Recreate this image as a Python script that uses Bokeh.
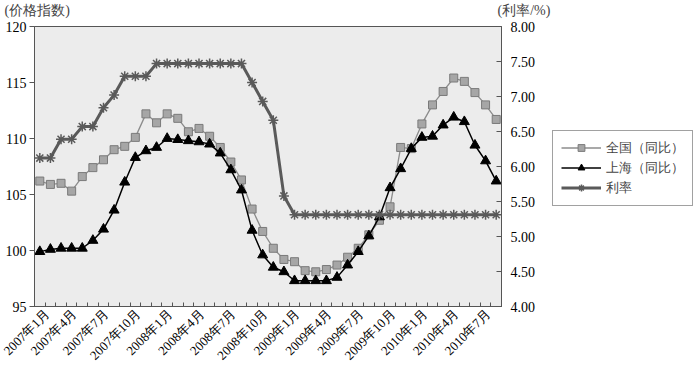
import math
from bokeh.plotting import figure
from bokeh.layouts import column, row
from bokeh.models import Range1d, LinearAxis, FixedTicker, Legend, LegendItem, Label, PrintfTickFormatter
from bokeh.embed import file_html
from bokeh.resources import INLINE

# ---- data ----
months = ["2007年1月", "2007年2月", "2007年3月", "2007年4月", "2007年5月", "2007年6月",
          "2007年7月", "2007年8月", "2007年9月", "2007年10月", "2007年11月", "2007年12月",
          "2008年1月", "2008年2月", "2008年3月", "2008年4月", "2008年5月", "2008年6月",
          "2008年7月", "2008年8月", "2008年9月", "2008年10月", "2008年11月", "2008年12月",
          "2009年1月", "2009年2月", "2009年3月", "2009年4月", "2009年5月", "2009年6月",
          "2009年7月", "2009年8月", "2009年9月", "2009年10月", "2009年11月", "2009年12月",
          "2010年1月", "2010年2月", "2010年3月", "2010年4月", "2010年5月", "2010年6月",
          "2010年7月", "2010年8月"]

national = [106.2, 105.9, 106.0, 105.3, 106.6, 107.4, 108.1, 109.0, 109.3, 110.1,
            112.2, 111.4, 112.2, 111.8, 110.6, 110.9, 110.2, 109.2, 107.9, 106.3,
            103.7, 101.7, 100.2, 99.2, 99.0, 98.2, 98.1, 98.3, 98.7, 99.4,
            100.2, 101.4, 102.7, 103.9, 109.2, 109.1, 111.3, 113.0, 114.2, 115.4,
            115.1, 114.1, 113.0, 111.7]

shanghai = [99.9, 100.1, 100.2, 100.2, 100.2, 100.9, 101.9, 103.6, 106.1, 108.3,
            108.9, 109.2, 110.0, 109.9, 109.8, 109.7, 109.5, 108.7, 107.2, 105.4,
            101.8, 99.6, 98.5, 98.1, 97.3, 97.3, 97.3, 97.3, 97.6, 98.7,
            99.9, 101.3, 103.0, 105.6, 107.3, 109.1, 110.1, 110.2, 111.2, 111.9,
            111.5, 109.4, 108.0, 106.2]

rate = [6.12, 6.12, 6.39, 6.39, 6.57, 6.57, 6.84, 7.02, 7.29, 7.29,
        7.29, 7.47, 7.47, 7.47, 7.47, 7.47, 7.47, 7.47, 7.47, 7.47,
        7.20, 6.93, 6.66, 5.58, 5.31, 5.31, 5.31, 5.31, 5.31, 5.31,
        5.31, 5.31, 5.31, 5.31, 5.31, 5.31, 5.31, 5.31, 5.31, 5.31,
        5.31, 5.31, 5.31, 5.31]

left_ticks = [95, 100, 105, 110, 115, 120]
right_ticks = [4.0, 4.5, 5.0, 5.5, 6.0, 6.5, 7.0, 7.5, 8.0]
label_every = 3

series_names = ["全国（同比）", "上海（同比）", "利率"]
left_title = "(价格指数)"
right_title = "(利率/%)"

x = list(range(len(months)))

FONT = "Liberation Serif"
AXIS_COLOR = "#555555"
NAT_LINE, NAT_FILL, NAT_EDGE = "#8c8c8c", "#a6a6a6", "#7a7a7a"
SH_COLOR = "black"
RATE_COLOR = "#5a5a5a"

TOTAL_W = 693
TOP_H = 20
LEFT_B, FRAME_W, RIGHT_B = 34, 467, 40
LEG_W = TOTAL_W - (LEFT_B + FRAME_W + RIGHT_B)


def draw_series(fig):
    nl = fig.line(x, national, line_color=NAT_LINE, line_width=1.3)
    ns = fig.scatter(x, national, marker="square", size=8, fill_color=NAT_FILL,
                     line_color=NAT_EDGE, line_width=1)
    sl = fig.line(x, shanghai, line_color=SH_COLOR, line_width=1.5)
    ss = fig.scatter(x, shanghai, marker="triangle", size=10, fill_color=SH_COLOR, line_color=SH_COLOR)
    kw = {"y_range_name": "rate"} if "rate" in fig.extra_y_ranges else {}
    rl = fig.line(x, rate, line_color=RATE_COLOR, line_width=3, **kw)
    rs = fig.scatter(x, rate, marker="asterisk", size=10, line_color=RATE_COLOR, line_width=1.5, **kw)
    return [(nl, ns), (sl, ss), (rl, rs)]


# ---- top strip with the two axis titles ----
top = figure(width=TOTAL_W, height=TOP_H, x_range=Range1d(0, TOTAL_W), y_range=Range1d(0, TOP_H),
             x_axis_type=None, y_axis_type=None, output_backend="svg", toolbar_location=None,
             min_border=0)
top.outline_line_color = None
top.xgrid.visible = False
top.ygrid.visible = False
top.add_layout(Label(x=4, y=10, text=left_title, text_font=FONT, text_font_size="14px",
                     text_baseline="middle", text_align="left"))
top.add_layout(Label(x=497, y=10, text=right_title, text_font=FONT, text_font_size="14px",
                     text_baseline="middle", text_align="left"))

# ---- main plot ----
p = figure(frame_width=FRAME_W, frame_height=280,
           x_range=Range1d(-0.5, len(months) - 0.5), y_range=Range1d(95, 120),
           output_backend="svg", toolbar_location=None,
           min_border_left=LEFT_B, min_border_top=6, min_border_bottom=20, min_border_right=RIGHT_B)
p.extra_y_ranges = {"rate": Range1d(4, 8)}
p.background_fill_color = "#ECECEC"
p.border_fill_color = "white"
p.outline_line_color = AXIS_COLOR
p.outline_line_width = 1
p.xgrid.visible = False
p.ygrid.visible = False

ya = p.yaxis[0]
ya.ticker = FixedTicker(ticks=left_ticks)
ya.major_tick_out = 5
ya.major_tick_in = 0
ya.minor_tick_out = 0
ya.minor_tick_in = 0
ya.axis_line_color = AXIS_COLOR
ya.major_tick_line_color = AXIS_COLOR
ya.major_label_text_font = FONT
ya.major_label_text_font_size = "14px"
ya.major_label_text_color = "black"
ya.major_label_standoff = 3

ra = LinearAxis(y_range_name="rate", ticker=FixedTicker(ticks=right_ticks),
                formatter=PrintfTickFormatter(format="%.2f"))
ra.major_tick_in = 5
ra.major_tick_out = 0
ra.minor_tick_in = 0
ra.minor_tick_out = 0
ra.axis_line_color = AXIS_COLOR
ra.major_tick_line_color = AXIS_COLOR
ra.major_label_text_font = FONT
ra.major_label_text_font_size = "14px"
ra.major_label_text_color = "black"
ra.major_label_standoff = 9
p.add_layout(ra, "right")

xa = p.xaxis[0]
label_shift = 0.25
major = [i + label_shift for i in x[::label_every]]
minor = [i - 0.5 for i in range(len(months) + 1)]
xa.ticker = FixedTicker(ticks=major, minor_ticks=minor)
xa.major_label_overrides = {i + label_shift: months[i] for i in x[::label_every]}
xa.major_tick_in = 0
xa.major_tick_out = 0
xa.minor_tick_in = 4
xa.minor_tick_out = 0
xa.minor_tick_line_color = AXIS_COLOR
xa.axis_line_color = AXIS_COLOR
xa.major_label_orientation = math.pi / 4
xa.major_label_text_font = FONT
xa.major_label_text_font_size = "13px"
xa.major_label_text_color = "black"
xa.major_label_standoff = 5

draw_series(p)

# ---- legend panel (its own copies of the series sit outside its view) ----
lf = figure(width=LEG_W, height=354, x_range=Range1d(1000, 1001), y_range=Range1d(1000, 1001),
            x_axis_type=None, y_axis_type=None, output_backend="svg", toolbar_location=None,
            min_border=0)
lf.outline_line_color = None
lf.xgrid.visible = False
lf.ygrid.visible = False
pairs = draw_series(lf)
legend = Legend(items=[LegendItem(label=series_names[k], renderers=list(pairs[k])) for k in range(3)],
                location="left")
legend.border_line_color = "#444444"
legend.border_line_width = 1
legend.background_fill_color = "white"
legend.label_text_font = FONT
legend.label_text_font_size = "13px"
legend.glyph_width = 40
legend.glyph_height = 17
legend.label_height = 17
legend.label_standoff = 5
legend.spacing = 2
legend.padding = 8
legend.margin = 11
lf.add_layout(legend, "center")

layout = column(top, row(p, lf))
open("out.html", "w").write(file_html(layout, INLINE))
